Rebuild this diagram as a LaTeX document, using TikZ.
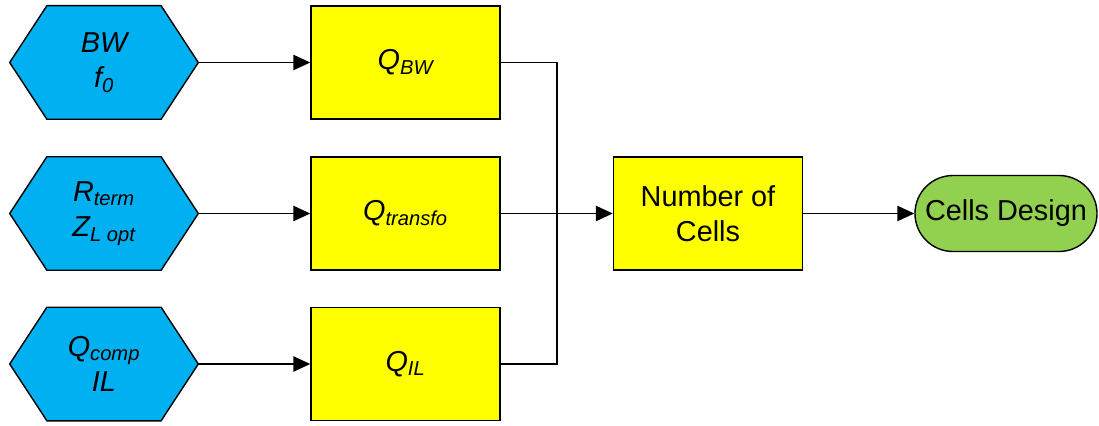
\documentclass[tikz,border=0pt]{standalone}
\usepackage{fontspec}
\setmainfont{Liberation Sans}
\usetikzlibrary{arrows.meta, positioning, shapes.misc, backgrounds}
\definecolor{inputblue}{HTML}{00B0F0}
\definecolor{qyellow}{HTML}{FFFF00}
\definecolor{designgreen}{HTML}{92D050}
\newcommand{\lowidx}[1]{\textsubscript{#1}}

\begin{document}
\begin{tikzpicture}[
    x=0.025cm, y=-0.025cm,
    font=\fontsize{20.5}{25}\selectfont,
    hexin/.style={inner sep=0pt, minimum width=4.7cm, minimum height=2.825cm,
        align=center, font=\fontsize{20.5}{25}\selectfont\itshape},
    hexline/.style={draw=black, fill=inputblue, line width=1pt, line join=miter},
    qbox/.style={draw=black, fill=qyellow, line width=1pt, inner sep=0pt,
        minimum width=4.725cm, minimum height=2.825cm, align=center},
    termbox/.style={rounded rectangle, draw=black, fill=designgreen, line width=1pt,
        inner sep=0pt, minimum width=4.55cm, minimum height=1.9cm, align=center},
    arrow/.style={-{Triangle[length=4.2mm, width=3.8mm]}, line width=0.9pt}
]
\useasboundingbox (0,0) rectangle (1099,426);

% Inputs
\node[hexin] (bw) at (104,62.5) {BW\\f\lowidx{0}};
\node[hexin] (rterm) at (104,213.5) {R\lowidx{term}\\Z\lowidx{L opt}};
\node[hexin] (qcomp) at (104,364) {Q\lowidx{comp}\\IL};

% Hexagon outlines behind the inputs
\begin{scope}[on background layer]
\foreach \n in {bw,rterm,qcomp}
    \draw[hexline] (\n.west) -- ([xshift=0.93cm]\n.north west) -- ([xshift=-0.93cm]\n.north east)
        -- (\n.east) -- ([xshift=-0.93cm]\n.south east) -- ([xshift=0.93cm]\n.south west) -- cycle;
\end{scope}

% Quality factors
\node[qbox] (qbw) at (405.5,62.5) {\itshape Q\lowidx{BW}};
\node[qbox] (qtr) at (405.5,213.5) {\itshape Q\lowidx{transfo}};
\node[qbox] (qil) at (405.5,364) {\itshape Q\lowidx{IL}};

% Result
\node[qbox] (ncells) at (708,213.5) {Number of\\Cells};
\node[termbox] (design) at (1006,213.5) {Cells Design};

\coordinate (join) at (557,213.5);

\draw[arrow] (bw) -- (qbw);
\draw[arrow] (rterm) -- (qtr);
\draw[arrow] (qcomp) -- (qil);
\draw[line width=0.9pt] (qbw.east) -| (join);
\draw[line width=0.9pt] (qil.east) -| (join);
\draw[arrow] (qtr) -- (ncells);
\draw[arrow] (ncells) -- (design);

\end{tikzpicture}
\end{document}
